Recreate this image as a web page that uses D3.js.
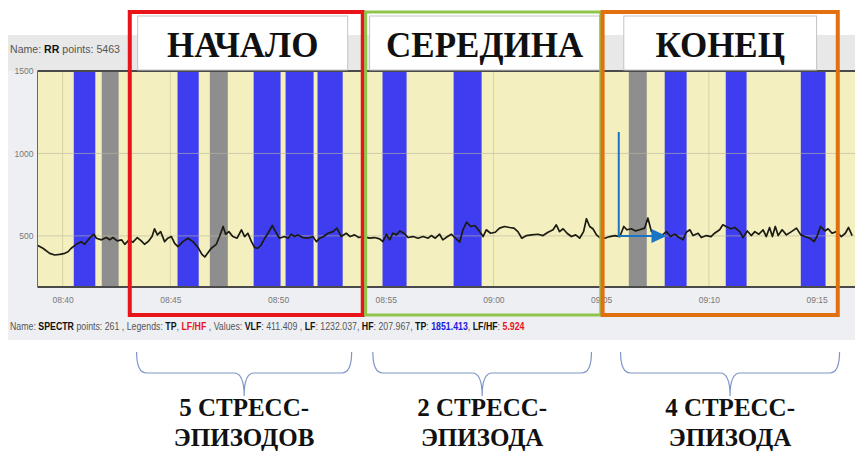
<!DOCTYPE html>
<html>
<head>
<meta charset="utf-8">
<script src="https://cdnjs.cloudflare.com/ajax/libs/d3/7.8.5/d3.min.js"></script>
<style>
    body { margin: 0; background: #fff; }
    svg { display: block; }
</style>
</head>
<body>
<div id="plot"></div>
<script>
// RR trace: seconds after 08:40:00 -> RR value
var rrSec = [-69, -55, -36, -22, -8, 6, 15, 24, 38, 52, 61, 75, 87, 94, 108, 122, 131, 140, 152, 164,
    173, 185, 196, 208, 219, 228, 238, 249, 256, 264, 273, 284, 293, 303, 312, 321, 335, 349, 363, 377,
    388, 396, 414, 428, 437, 447, 454, 463, 474, 486, 498, 507, 516, 526, 535, 544, 553, 563, 572, 584,
    593, 604, 618, 628, 637, 646, 655, 669, 683, 697, 707, 716, 727, 739, 753, 764, 776, 790, 801, 813,
    825, 836, 855, 869, 883, 892, 902, 911, 920, 930, 939, 951, 962, 976, 990, 1004, 1018, 1027, 1038, 1050,
    1059, 1072, 1083, 1094, 1106, 1115, 1125, 1137, 1148, 1162, 1171, 1180, 1192, 1205, 1217, 1231, 1245, 1257, 1268, 1279,
    1292, 1306, 1324, 1338, 1352, 1366, 1375, 1384, 1394, 1405, 1417, 1429, 1440, 1451, 1459, 1468, 1477, 1487, 1496, 1510,
    1524, 1538, 1552, 1563, 1572, 1584, 1596, 1607, 1621, 1630, 1640, 1654, 1668, 1682, 1693, 1705, 1717, 1728, 1737, 1747,
    1756, 1770, 1779, 1793, 1806, 1816, 1830, 1839, 1848, 1861, 1872, 1886, 1895, 1907, 1918, 1928, 1939, 1951, 1960, 1969,
    1977, 1985, 1993, 2004, 2016, 2030, 2044, 2056, 2067, 2081, 2093, 2102, 2111, 2123, 2132, 2143, 2155, 2169, 2180, 2189, 2199];
var rrVal = [441, 425, 394, 384, 388, 394, 404, 425, 449, 465, 449, 486, 510, 486, 476, 490, 477, 490, 470, 476,
    449, 476, 462, 490, 470, 449, 465, 496, 543, 506, 526, 465, 486, 496, 455, 435, 465, 486, 465, 430,
    388, 372, 425, 449, 496, 557, 510, 526, 496, 486, 537, 496, 516, 465, 429, 425, 445, 486, 516, 563,
    526, 486, 496, 486, 510, 496, 506, 490, 486, 496, 465, 486, 496, 516, 526, 547, 496, 516, 496, 506,
    490, 496, 486, 490, 482, 465, 510, 476, 516, 506, 530, 516, 490, 496, 486, 496, 486, 502, 486, 510,
    476, 496, 510, 486, 462, 537, 584, 557, 563, 526, 496, 537, 516, 522, 547, 557, 551, 547, 526, 486,
    502, 506, 510, 502, 522, 537, 567, 526, 543, 516, 496, 506, 486, 526, 604, 557, 543, 506, 490, 486,
    496, 502, 496, 557, 537, 543, 530, 537, 547, 608, 526, 516, 502, 526, 496, 510, 490, 476, 522, 537,
    502, 516, 490, 502, 496, 516, 537, 567, 557, 543, 551, 526, 490, 530, 502, 526, 510, 537, 496, 551,
    496, 557, 502, 537, 506, 526, 547, 506, 496, 486, 465, 502, 557, 530, 543, 516, 526, 496, 516, 551, 502];

// shaded spectral windows
var bandFrom = ["08:40:31", "08:41:49", "08:45:20", "08:46:50", "08:48:52", "08:50:21", "08:51:50",
    "08:54:51", "08:58:09", "09:06:17", "09:07:57", "09:10:47", "09:14:16"];
var bandTo = ["08:41:31", "08:42:36", "08:46:19", "08:47:40", "08:50:07", "08:51:39", "08:53:00",
    "08:55:58", "08:59:27", "09:07:07", "09:08:58", "09:11:45", "09:15:25"];
var bandKind = ["stress", "artifact", "stress", "artifact", "stress", "stress", "stress",
    "stress", "stress", "artifact", "stress", "stress", "stress"];

var yTicks = [500, 1000, 1500];

// phase annotations
var phaseNames = ["НАЧАЛО", "СЕРЕДИНА", "КОНЕЦ"];
var phaseFrom = ["08:43:07", "08:54:04", "09:05:04"];
var phaseTo = ["08:53:56", "09:04:59", "09:15:59"];
var labelFrom = ["08:43:29", "08:54:15", "09:06:03"];
var labelTo = ["08:53:14", "09:04:56", "09:15:00"];
var braceFrom = ["08:43:26", "08:54:24", "09:05:54"];
var braceTo = ["08:53:25", "09:04:33", "09:16:04"];
var stressLine1 = ["5 СТРЕСС-", "2 СТРЕСС-", "4 СТРЕСС-"];
var stressLine2 = ["ЭПИЗОДОВ", "ЭПИЗОДА", "ЭПИЗОДА"];

// arrow: start time, end time, top value, level value
var arrowFrom = "09:05:49", arrowTo = "09:08:02", arrowTop = 1130, arrowLevel = 499;

var spectrParts = [
    ["Name: ", "n"], ["SPECTR", "b"], [" points: 261 , Legends: ", "n"], ["TP", "b"], [", ", "n"],
    ["LF/HF", "r"], [" , Values: ", "n"], ["VLF", "b"], [": 411.409 , ", "n"], ["LF", "b"],
    [": 1232.037, ", "n"], ["HF", "b"], [": 207.967, ", "n"], ["TP", "b"], [": ", "n"],
    ["1851.413", "blue"], [", ", "n"], ["LF/HF", "b"], [": ", "n"], ["5.924", "r"]
];

var W = 855, H = 454;
var plot = { left: 37.5, right: 855, top: 71, bottom: 287 };
var sans = "'Liberation Sans', Arial, sans-serif";
var serif = "'Liberation Serif', 'Times New Roman', serif";

var parseTime = d3.timeParse("%H:%M:%S");
var base = parseTime("08:40:00");
var secToDate = function (s) { return new Date(base.getTime() + s * 1000); };

var xScale = d3.scaleTime()
    .domain([parseTime("08:38:50"), parseTime("09:16:47")])
    .range([plot.left, plot.right]);
var yScale = d3.scaleLinear().domain([190, 1500]).range([plot.bottom, plot.top]);

var svg = d3.select("#plot").append("svg")
    .attr("width", W)
    .attr("height", H);

// panel backgrounds
svg.append("rect").attr("x", 8).attr("y", 35).attr("width", W - 8).attr("height", 305).attr("fill", "#eeeff3");
svg.append("rect").attr("x", 8).attr("y", 35).attr("width", W - 8).attr("height", plot.top - 35).attr("fill", "#e8e8e8");

// plot area
svg.append("rect")
    .attr("x", plot.left).attr("y", plot.top)
    .attr("width", plot.right - plot.left).attr("height", plot.bottom - plot.top)
    .attr("fill", "#f3efbf");

var ticks5 = xScale.ticks(d3.timeMinute.every(5));

// vertical grid
svg.append("g").selectAll("line")
    .data(ticks5)
    .enter().append("line")
    .attr("x1", function (d) { return xScale(d); })
    .attr("x2", function (d) { return xScale(d); })
    .attr("y1", plot.top).attr("y2", plot.bottom)
    .attr("stroke", "#d8d4a6").attr("stroke-width", 1);

// bands
var bands = bandFrom.map(function (f, i) { return { from: parseTime(f), to: parseTime(bandTo[i]), kind: bandKind[i] }; });
svg.append("g").selectAll("rect")
    .data(bands)
    .enter().append("rect")
    .attr("x", function (d) { return xScale(d.from); })
    .attr("width", function (d) { return xScale(d.to) - xScale(d.from); })
    .attr("y", plot.top).attr("height", plot.bottom - plot.top)
    .attr("fill", function (d) { return d.kind === "stress" ? "#3e3ef0" : "#8e8e8e"; });

// horizontal grid
svg.append("g").selectAll("line")
    .data([500, 1000])
    .enter().append("line")
    .attr("x1", plot.left).attr("x2", plot.right)
    .attr("y1", function (d) { return yScale(d); })
    .attr("y2", function (d) { return yScale(d); })
    .attr("stroke", "#b9b7a0").attr("stroke-opacity", 0.6).attr("stroke-width", 1);

// RR line
var rr = rrSec.map(function (s, i) { return { t: secToDate(s), v: rrVal[i] }; });
var line = d3.line()
    .x(function (d) { return xScale(d.t); })
    .y(function (d) { return yScale(d.v); });
svg.append("path")
    .datum(rr)
    .attr("d", line)
    .attr("fill", "none")
    .attr("stroke", "#1b1b12")
    .attr("stroke-width", 1.7)
    .attr("stroke-linejoin", "round");

// frame
svg.append("line").attr("x1", plot.left).attr("x2", plot.right).attr("y1", plot.top).attr("y2", plot.top)
    .attr("stroke", "#4a4a4a").attr("stroke-width", 2);
svg.append("line").attr("x1", plot.left).attr("x2", plot.right).attr("y1", plot.bottom).attr("y2", plot.bottom)
    .attr("stroke", "#4a4a4a").attr("stroke-width", 2);
svg.append("line").attr("x1", plot.left).attr("x2", plot.left).attr("y1", plot.top).attr("y2", plot.bottom)
    .attr("stroke", "#6a6a6a").attr("stroke-width", 1);

// x axis
var xAxis = svg.append("g")
    .attr("transform", "translate(0," + plot.bottom + ")")
    .call(d3.axisBottom(xScale).tickValues(ticks5).tickFormat(d3.timeFormat("%H:%M")).tickSize(0).tickPadding(10));
xAxis.select(".domain").remove();
xAxis.selectAll("text").attr("font-family", sans).attr("font-size", 8.5).attr("fill", "#777");

// y axis
var yAxis = svg.append("g")
    .attr("transform", "translate(" + plot.left + ",0)")
    .call(d3.axisLeft(yScale).tickValues(yTicks).tickFormat(d3.format("d")).tickSize(0).tickPadding(4));
yAxis.select(".domain").remove();
yAxis.selectAll("text").attr("font-family", sans).attr("font-size", 8.5).attr("fill", "#777");

// squeeze a caption horizontally to a target width (the source uses a narrow face)
function narrowText(x, y, size, width) {
    var g = svg.append("g");
    var t = g.append("text").attr("x", 0).attr("y", 0)
        .attr("font-family", sans).attr("font-size", size).attr("fill", "#555");
    return { g: g, t: t, fit: function () {
        var w = t.node().getComputedTextLength();
        g.attr("transform", "translate(" + x + "," + y + ") scale(" + (width / w) + ",1)");
    } };
}

// top title
var rrTitle = narrowText(10, 53, 10.5, 110);
rrTitle.t.append("tspan").text("Name: ");
rrTitle.t.append("tspan").attr("font-weight", "bold").attr("fill", "#111").text("RR");
rrTitle.t.append("tspan").text(" points: 5463");
rrTitle.fit();

// spectrum caption
var spec = narrowText(10, 330, 10, 515);
spectrParts.forEach(function (p) {
    var t = spec.t.append("tspan").text(p[0]);
    if (p[1] === "b") t.attr("font-weight", "bold").attr("fill", "#111");
    if (p[1] === "r") t.attr("font-weight", "bold").attr("fill", "#e8161b");
    if (p[1] === "blue") t.attr("font-weight", "bold").attr("fill", "#1a1ae0");
});
spec.fit();

// phase label boxes
var phaseColors = ["#e8141a", "#8fc54a", "#e3700f"];
phaseNames.forEach(function (name, i) {
    var x0 = xScale(parseTime(labelFrom[i])), x1 = xScale(parseTime(labelTo[i]));
    svg.append("rect")
        .attr("x", x0).attr("y", 16).attr("width", x1 - x0).attr("height", plot.top - 17)
        .attr("fill", "#fff").attr("stroke", "#c4c4c4").attr("stroke-width", 1);
    svg.append("text")
        .attr("x", (x0 + x1) / 2).attr("y", 57)
        .attr("text-anchor", "middle")
        .attr("font-family", serif).attr("font-weight", "bold").attr("font-size", 35)
        .attr("fill", "#111")
        .text(name);
});

// phase frames
phaseNames.forEach(function (name, i) {
    var x0 = xScale(parseTime(phaseFrom[i])), x1 = xScale(parseTime(phaseTo[i]));
    svg.append("rect")
        .attr("x", x0).attr("y", 12).attr("width", x1 - x0).attr("height", 303)
        .attr("fill", "none").attr("stroke", phaseColors[i]).attr("stroke-width", i === 1 ? 3 : 4);
});

// arrow
var ax0 = xScale(parseTime(arrowFrom)), ax1 = xScale(parseTime(arrowTo));
var ayTop = yScale(arrowTop), ayLev = yScale(arrowLevel);
svg.append("path")
    .attr("d", "M" + ax0 + "," + ayTop + "V" + ayLev + "H" + (ax1 - 14))
    .attr("fill", "none").attr("stroke", "#1a74c4").attr("stroke-width", 2);
svg.append("path")
    .attr("d", "M" + (ax1 - 15) + "," + (ayLev - 7) + "L" + ax1 + "," + ayLev + "L" + (ax1 - 15) + "," + (ayLev + 7) + "Z")
    .attr("fill", "#1a74c4");

// braces and stress counts
phaseNames.forEach(function (name, i) {
    var x0 = xScale(parseTime(braceFrom[i])), x1 = xScale(parseTime(braceTo[i]));
    var m = (x0 + x1) / 2, yTop = 352, yMid = 373, yTip = 396;
    svg.append("path")
        .attr("d", "M" + x0 + "," + yTop +
            "Q" + x0 + "," + yMid + " " + (x0 + 10) + "," + yMid +
            "L" + (m - 10) + "," + yMid +
            "Q" + m + "," + yMid + " " + m + "," + yTip +
            "Q" + m + "," + yMid + " " + (m + 10) + "," + yMid +
            "L" + (x1 - 10) + "," + yMid +
            "Q" + x1 + "," + yMid + " " + x1 + "," + yTop)
        .attr("fill", "none").attr("stroke", "#7d96c6").attr("stroke-width", 1.2);
    svg.append("text")
        .attr("x", m).attr("y", 416)
        .attr("text-anchor", "middle")
        .attr("font-family", serif).attr("font-weight", "bold").attr("font-size", 25)
        .attr("fill", "#111")
        .text(stressLine1[i]);
    svg.append("text")
        .attr("x", m).attr("y", 446)
        .attr("text-anchor", "middle")
        .attr("font-family", serif).attr("font-weight", "bold").attr("font-size", 25)
        .attr("fill", "#111")
        .text(stressLine2[i]);
});
</script>
</body>
</html>
